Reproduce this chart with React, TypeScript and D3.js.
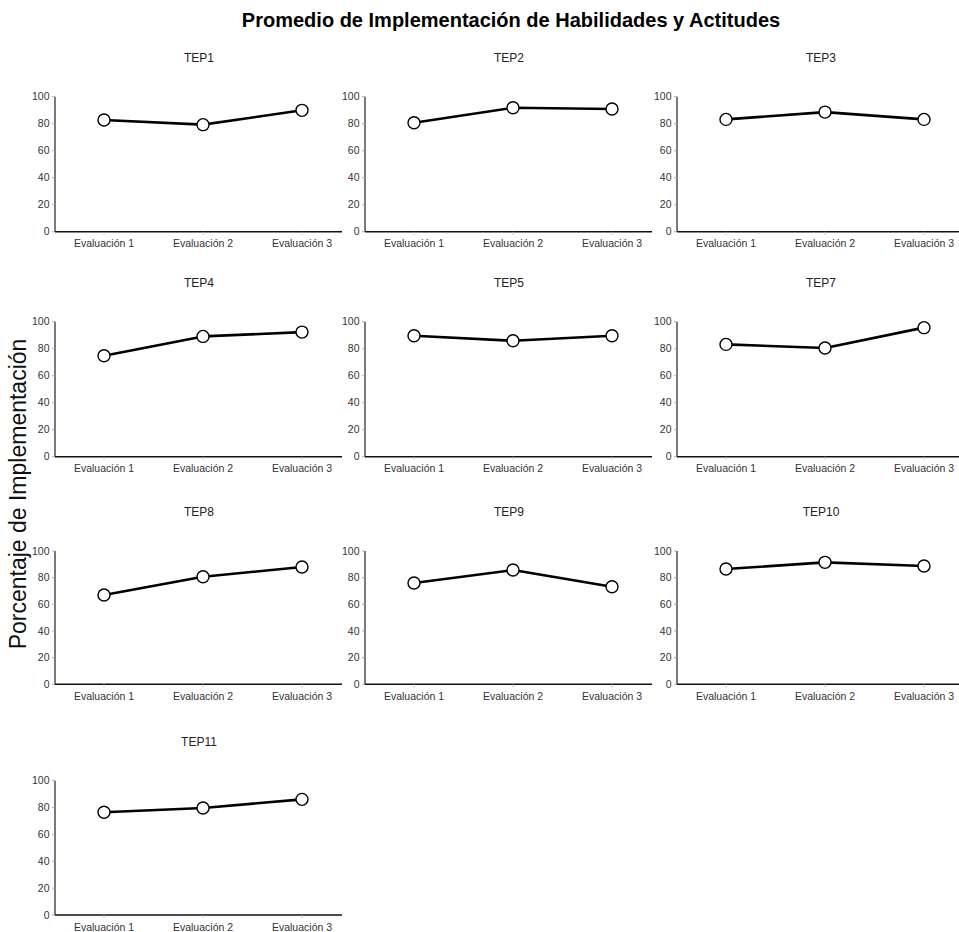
import React from "react";
import * as d3 from "d3";

// Panel names (TEP6 is not reported)
const panels = ["TEP1", "TEP2", "TEP3", "TEP4", "TEP5", "TEP7", "TEP8", "TEP9", "TEP10", "TEP11"];
const evaluaciones = ["Evaluación 1", "Evaluación 2", "Evaluación 3"];
// Mean implementation percentage per evaluation, one entry per panel
const eval1 = [82.7, 80.7, 83.2, 74.8, 89.6, 83.2, 67.0, 76.0, 86.5, 76.5];
const eval2 = [79.3, 91.8, 88.6, 89.1, 85.9, 80.5, 80.7, 85.7, 91.5, 79.7];
const eval3 = [89.9, 90.9, 83.2, 92.3, 89.6, 95.6, 88.0, 73.2, 88.7, 86.1];
const yTicks = [0, 20, 40, 60, 80, 100];

const W = 959;
const H = 932;
const colX = [55, 365, 677];
const rowTop = [96.7, 321.7, 551, 780.7];
const rowZero = [231.7, 456.7, 684.3, 915];
const axisLen = 287;
const FONT = "Liberation Sans, Arial, Helvetica, sans-serif";

const x = d3.scalePoint<string>().domain(evaluaciones).range([49, 247]);

function Panel({ idx }: { idx: number }) {
  const col = idx % 3;
  const row = Math.floor(idx / 3);
  const x0 = colX[col];
  const y = d3.scaleLinear().domain([0, 100]).range([rowZero[row], rowTop[row]]);
  const values = [eval1[idx], eval2[idx], eval3[idx]];
  const pts = evaluaciones.map((e, i) => ({ e, v: values[i] }));
  const line = d3
    .line<{ e: string; v: number }>()
    .x((d) => x0 + (x(d.e) as number))
    .y((d) => y(d.v));
  const zero = y(0);
  return (
    <g>
      <text
        x={x0 + 144}
        y={y(100) - 35}
        textAnchor="middle"
        fontSize={12}
        fill="#222"
        fontFamily={FONT}
      >
        {panels[idx]}
      </text>
      {/* y axis */}
      <line x1={x0} x2={x0} y1={y(100)} y2={zero} stroke="#222" strokeWidth={1.2} />
      {yTicks.map((t) => (
        <g key={t}>
          <line x1={x0 - 3} x2={x0} y1={y(t)} y2={y(t)} stroke="#999" strokeWidth={0.8} />
          <text
            x={x0 - 5.5}
            y={y(t)}
            dy="0.35em"
            textAnchor="end"
            fontSize={10.5}
            fill="#333"
            fontFamily={FONT}
          >
            {t}
          </text>
        </g>
      ))}
      {/* x axis */}
      <line x1={x0} x2={x0 + axisLen} y1={zero} y2={zero} stroke="#111" strokeWidth={1.5} />
      {evaluaciones.map((e) => (
        <g key={e}>
          <line
            x1={x0 + (x(e) as number)}
            x2={x0 + (x(e) as number)}
            y1={zero}
            y2={zero + 3}
            stroke="#bbb"
            strokeWidth={0.8}
          />
          <text
            x={x0 + (x(e) as number)}
            y={zero + 15.5}
            textAnchor="middle"
            fontSize={10.5}
            fill="#333"
            fontFamily={FONT}
          >
            {e}
          </text>
        </g>
      ))}
      <path d={line(pts) || ""} fill="none" stroke="#000" strokeWidth={2.6} strokeLinejoin="round" />
      {pts.map((d) => (
        <circle
          key={d.e}
          cx={x0 + (x(d.e) as number)}
          cy={y(d.v)}
          r={6}
          fill="#fff"
          stroke="#000"
          strokeWidth={1.4}
        />
      ))}
    </g>
  );
}

export default function App() {
  return (
    <svg
      width={W}
      height={H}
      style={{ position: "absolute", left: 0, top: 0, background: "#fff" }}
    >
      <rect width={W} height={H} fill="#fff" />
      <text
        x={511}
        y={27}
        textAnchor="middle"
        fontSize={20}
        fontWeight="bold"
        fill="#000"
        fontFamily={FONT}
      >
        Promedio de Implementación de Habilidades y Actitudes
      </text>
      <text
        transform="translate(25.5,494) rotate(-90)"
        textAnchor="middle"
        fontSize={23}
        fill="#111"
        fontFamily={FONT}
      >
        Porcentaje de Implementación
      </text>
      {panels.map((p, i) => (
        <Panel key={p} idx={i} />
      ))}
    </svg>
  );
}
